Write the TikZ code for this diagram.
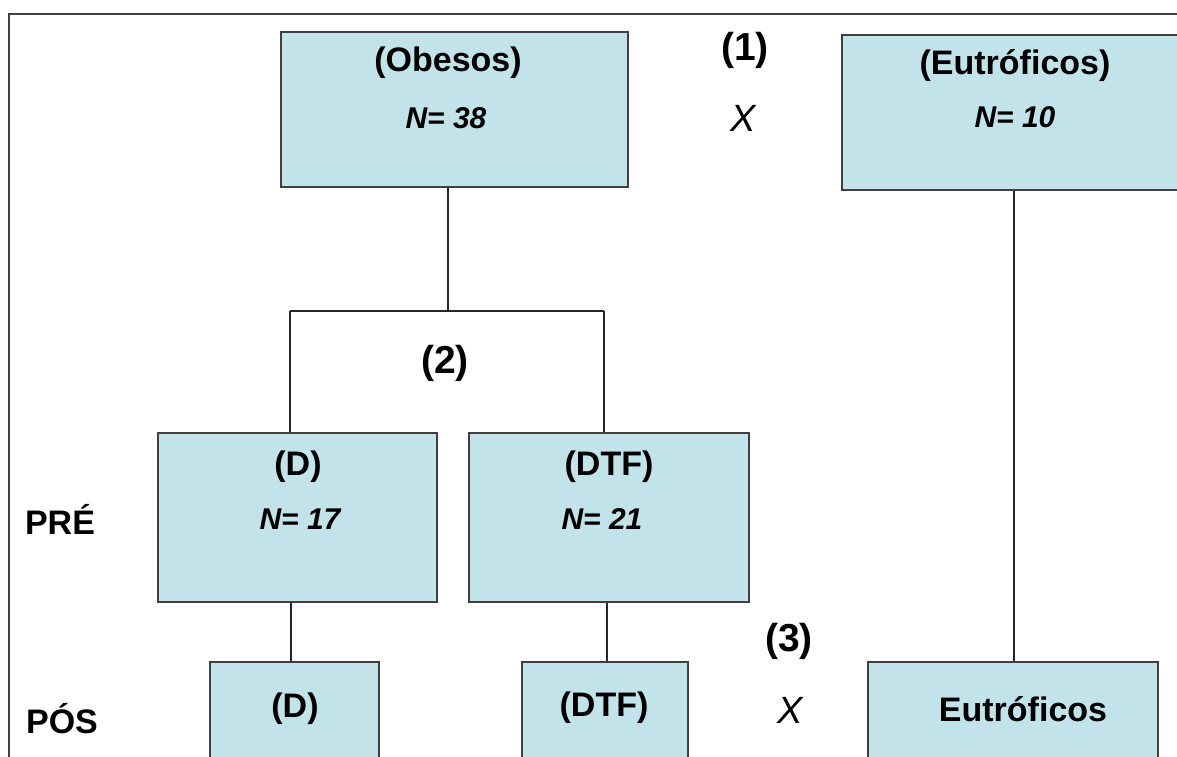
\documentclass[tikz,border=0pt]{standalone}
\usepackage{fontspec}
\setmainfont{Liberation Sans}
\definecolor{boxfill}{HTML}{C1E3E9}
\definecolor{boxline}{HTML}{404040}
\begin{document}
\begin{tikzpicture}[x=1pt,y=-1pt,
  grp/.style={draw=boxline,line width=1.3pt,fill=boxfill,inner sep=0pt},
  lbl/.style={font=\fontsize{34}{40}\selectfont\bfseries,inner sep=0pt},
  cmp/.style={font=\fontsize{39}{44}\selectfont\bfseries,inner sep=0pt},
  num/.style={font=\fontsize{30}{36}\selectfont\bfseries\itshape,inner sep=0pt},
  vs/.style={font=\fontsize{38}{42}\selectfont\itshape,inner sep=0pt},
  conn/.style={draw=black!85,line width=1.1pt}]
\clip (0,0) rectangle (1177,756);
\useasboundingbox (0,0) rectangle (1177,756);
\fill[white] (0,0) rectangle (1177,756);
% outer frame
\draw[draw=boxline,line width=1.3pt] (9,760) -- (9,14) -- (1180,14);
% boxes
\node[grp,minimum width=347pt,minimum height=155pt] (ob) at (454.5,109.5) {};
\node[grp,minimum width=348pt,minimum height=155pt] (eu) at (1016,112.5) {};
\node[grp,minimum width=279pt,minimum height=169pt] (d) at (297.5,517.5) {};
\node[grp,minimum width=280pt,minimum height=169pt] (dtf) at (609,517.5) {};
\node[grp,minimum width=169pt,minimum height=140pt] (dp) at (294.5,732) {};
\node[grp,minimum width=166pt,minimum height=140pt] (dtfp) at (605,732) {};
\node[grp,minimum width=290pt,minimum height=140pt] (eup) at (1013,732) {};
% box texts
\node[lbl] (tob) at (448,63) {(Obesos)};
\node[num] (nob) at (446,118) {N= 38};
\node[lbl] (teu) at (1015,66) {(Eutróficos)};
\node[num] (neu) at (1015,117) {N= 10};
\node[lbl] (td) at (298,467) {(D)};
\node[num] (nd) at (300,519) {N= 17};
\node[lbl] (tdtf) at (609,467) {(DTF)};
\node[num] (ndtf) at (602,519) {N= 21};
\node[lbl] (tdp) at (295,709) {(D)};
\node[lbl] (tdtfp) at (604,708) {(DTF)};
\node[lbl] (teup) at (1023,709) {Eutróficos};
% side labels
\node[lbl] (pre) at (60,519) {PRÉ};
\node[lbl] (pos) at (62,719) {PÓS};
\node[cmp] (c1) at (745,50) {(1)};
\node[vs] (x1) at (743,118) {X};
\node[cmp] (c2) at (445,363) {(2)};
\node[cmp] (c3) at (789,641) {(3)};
\node[vs] (x2) at (790,710) {X};
% connectors
\coordinate (j) at (448,311);
\coordinate (jl) at (290,311);
\coordinate (jr) at (604,311);
\draw[conn] (ob.south -| j) -- (j);
\draw[conn] (jl) -- (jr);
\draw[conn] (jl) -- (jl |- d.north);
\draw[conn] (jr) -- (jr |- dtf.north);
\draw[conn] ([xshift=-6.5pt]d.south) -- ([xshift=-6.5pt]d.south |- dp.north);
\draw[conn] ([xshift=-2pt]dtf.south) -- ([xshift=-2pt]dtf.south |- dtfp.north);
\draw[conn] ([xshift=-2pt]eu.south) -- ([xshift=-2pt]eu.south |- eup.north);
\end{tikzpicture}
\end{document}
